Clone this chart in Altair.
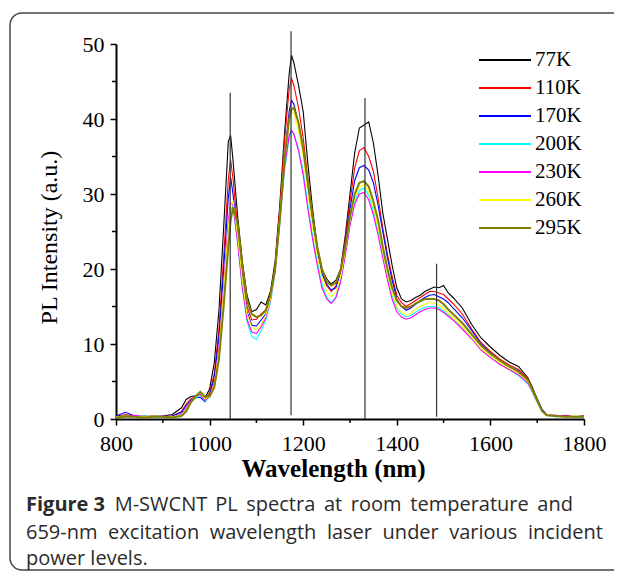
import altair as alt
import pandas as pd

# ---------------- data ----------------
wavelength = [800, 820, 840, 860, 880, 900, 920, 940,
              950, 960, 970, 980, 990, 1000, 1010, 1020, 1030, 1040,
              1045,
              1050, 1060, 1070, 1080, 1090, 1100, 1110, 1120, 1130, 1140, 1150, 1160, 1170,
              1175,
              1180, 1190, 1200, 1210, 1220, 1230, 1240, 1250, 1260, 1270, 1280, 1290, 1300,
              1310, 1320, 1330, 1340, 1350, 1360, 1370, 1380, 1390, 1400, 1410, 1420, 1430,
              1440, 1450, 1460, 1470, 1480, 1490, 1500, 1510, 1520,
              1540, 1560, 1580, 1600, 1620, 1640, 1660, 1680,
              1690, 1700, 1710, 1720,
              1740, 1760, 1780, 1800]

i77 = [0.4, 0.5, 0.3, 0.4, 0.3, 0.4, 0.6, 1.5,
       2.6, 3.0, 3.1, 3.4, 2.8, 4.0, 7.5, 14.5, 25.5, 37.0,
       37.8,
       34.5, 27.0, 21.0, 16.5, 14.3, 14.6, 15.6, 15.2, 17.0, 21.0, 28.5, 38.0, 46.0,
       48.5,
       47.5, 44.5, 41.0, 34.0, 28.0, 23.0, 20.0, 18.7, 18.0, 18.5, 20.0, 24.5, 30.0,
       35.5, 38.8, 39.2, 39.6, 36.8, 32.5, 27.5, 24.0, 20.5, 17.5, 16.0, 15.6, 15.8,
       16.2, 16.5, 17.0, 17.3, 17.6, 17.5, 17.8, 16.8, 16.2,
       14.8, 12.6, 10.8, 9.6, 8.5, 7.6, 7.0, 5.5,
       4.2, 2.6, 1.3, 0.6,
       0.4, 0.4, 0.3, 0.4]

i110 = [0.3, 0.6, 0.4, 0.3, 0.4, 0.3, 0.4, 1.0,
        2.0, 2.7, 3.0, 3.2, 2.6, 3.5, 6.0, 12.0, 21.5, 32.0,
        34.5,
        32.0, 25.5, 19.5, 15.0, 13.2, 13.3, 14.0, 14.5, 16.5, 20.5, 28.0, 37.0, 44.0,
        45.4,
        44.5, 41.5, 37.5, 32.0, 27.0, 22.5, 19.5, 17.8, 17.0, 17.8, 19.8, 24.0, 29.0,
        33.5, 35.8, 36.2, 35.0, 33.0, 29.5, 25.5, 22.0, 19.0, 16.5, 15.5, 15.0, 15.4,
        15.8, 16.2, 16.6, 17.0, 17.0, 16.8, 16.6, 16.0, 15.4,
        14.0, 12.0, 10.2, 9.0, 8.0, 7.2, 6.6, 5.4,
        4.0, 2.6, 1.2, 0.6,
        0.4, 0.5, 0.3, 0.4]

i170 = [0.4, 0.9, 0.4, 0.3, 0.4, 0.3, 0.4, 0.9,
        1.8, 2.5, 2.8, 2.9, 2.3, 3.2, 5.5, 11.0, 20.0, 29.5,
        32.2,
        30.0, 24.0, 18.5, 14.3, 12.5, 12.4, 13.2, 14.0, 16.0, 20.0, 27.0, 35.0, 41.0,
        42.5,
        42.0, 39.5, 36.0, 31.0, 26.5, 22.5, 19.5, 18.0, 17.2, 17.5, 19.5, 23.5, 28.0,
        31.8, 33.5, 33.8, 33.2, 31.5, 28.5, 25.0, 21.5, 18.5, 16.0, 15.0, 14.5, 14.8,
        15.3, 15.8, 16.2, 16.5, 16.6, 16.3, 16.0, 15.5, 14.8,
        13.5, 11.8, 10.0, 8.8, 7.8, 7.0, 6.4, 5.2,
        4.0, 2.7, 1.3, 0.6,
        0.3, 0.4, 0.3, 0.3]

i200 = [0.3, 0.4, 0.3, 0.4, 0.2, 0.3, 0.3, 0.6,
        1.4, 2.2, 2.8, 3.2, 2.4, 2.9, 4.5, 9.0, 17.0, 25.5,
        28.0,
        28.3, 23.5, 17.5, 13.0, 11.0, 10.6, 11.8, 13.2, 15.5, 19.5, 26.0, 33.0, 37.5,
        38.4,
        38.0, 36.0, 33.0, 28.5, 24.5, 21.0, 18.0, 16.3, 15.5, 16.3, 18.5, 22.0, 26.0,
        29.0, 30.5, 30.8, 29.8, 27.8, 25.0, 22.0, 19.0, 16.5, 14.8, 14.0, 13.6, 13.8,
        14.2, 14.6, 14.9, 15.0, 15.0, 14.8, 14.4, 13.9, 13.3,
        12.2, 10.8, 9.3, 8.3, 7.4, 6.6, 5.8, 4.7,
        3.5, 2.2, 1.0, 0.5,
        0.3, 0.3, 0.4, 0.2]

i230 = [0.3, 0.3, 0.5, 0.3, 0.3, 0.4, 0.3, 0.6,
        1.5, 2.4, 3.0, 3.3, 2.5, 3.0, 4.8, 9.5, 17.5, 26.5,
        28.8,
        28.5, 23.5, 17.5, 13.3, 11.6, 11.4, 12.3, 13.5, 15.8, 19.8, 26.5, 33.5, 37.8,
        38.5,
        38.0, 35.8, 32.5, 28.0, 24.0, 20.5, 17.5, 16.0, 15.4, 16.2, 18.3, 21.8, 25.8,
        28.6, 30.0, 30.2, 29.2, 27.2, 24.5, 21.5, 18.5, 16.0, 14.3, 13.6, 13.3, 13.5,
        13.9, 14.3, 14.6, 14.8, 14.8, 14.6, 14.2, 13.7, 13.2,
        12.0, 10.7, 9.2, 8.2, 7.3, 6.6, 5.9, 4.8,
        3.6, 2.3, 1.1, 0.6,
        0.5, 0.4, 0.3, 0.4]

i260 = [0.3, 0.4, 0.3, 0.3, 0.4, 0.3, 0.3, 0.5,
        1.3, 2.3, 3.0, 3.5, 2.7, 3.0, 4.6, 9.0, 17.0, 25.5,
        28.5,
        29.0, 24.5, 18.5, 14.0, 12.2, 11.9, 12.6, 13.8, 16.0, 20.0, 27.0, 35.0, 40.0,
        41.0,
        40.8, 38.5, 35.0, 30.0, 25.5, 21.8, 18.8, 17.0, 16.3, 17.0, 19.0, 22.5, 26.5,
        29.5, 31.0, 31.2, 30.3, 28.2, 25.5, 22.3, 19.3, 16.8, 15.0, 14.2, 13.9, 14.1,
        14.6, 15.0, 15.3, 15.5, 15.5, 15.2, 14.7, 14.1, 13.5,
        12.3, 10.9, 9.4, 8.4, 7.5, 6.8, 6.1, 5.0,
        3.7, 2.4, 1.1, 0.6,
        0.4, 0.3, 0.4, 0.3]

i295 = [0.2, 0.3, 0.3, 0.2, 0.3, 0.3, 0.2, 0.4,
        1.0, 2.2, 3.0, 3.6, 3.0, 3.0, 4.2, 8.0, 15.0, 23.0,
        26.5,
        28.2, 26.0, 20.5, 15.8, 14.0, 13.6, 13.8, 14.5, 16.5, 20.0, 26.5, 34.5, 40.0,
        41.3,
        41.5, 39.5, 36.0, 31.5, 27.0, 23.0, 20.0, 18.3, 17.8, 18.2, 19.8, 23.0, 27.0,
        30.0, 31.5, 31.7, 31.0, 29.0, 26.5, 23.0, 20.0, 17.5, 15.8, 15.0, 14.8, 15.0,
        15.4, 15.7, 16.0, 16.0, 16.0, 15.8, 15.3, 14.6, 14.0,
        12.8, 11.3, 9.8, 8.7, 7.8, 7.0, 6.3, 5.2,
        3.9, 2.5, 1.1, 0.5,
        0.4, 0.3, 0.3, 0.3]

series_names = ["77K", "110K", "170K", "200K", "230K", "260K", "295K"]
series_colors = ["#000000", "#ff0000", "#0000ff", "#00ffff", "#ff00ff", "#ffff00", "#808000"]
series_values = [i77, i110, i170, i200, i230, i260, i295]

peak_wl = [1044, 1174, 1332, 1485]
peak_top = [43.5, 51.7, 42.8, 20.7]
peak_bottom = [0.0, 0.5, 0.0, 0.3]

x_ticks = [800, 1000, 1200, 1400, 1600, 1800]
x_minor = [900, 1100, 1300, 1500, 1700]
y_ticks = [0, 10, 20, 30, 40, 50]
y_minor = [5, 15, 25, 35, 45]

caption_words_1 = ["Figure 3", "M-SWCNT", "PL", "spectra", "at", "room", "temperature", "and"]
caption_bold_1 = [True, False, False, False, False, False, False, False]
caption_words_2 = ["659-nm", "excitation", "wavelength", "laser", "under", "various", "incident"]
caption_words_3 = ["power levels."]

# ---------------- build tables ----------------
rows = []
for name, vals in zip(series_names, series_values):
    assert len(vals) == len(wavelength), name
    for w, v in zip(wavelength, vals):
        rows.append({"wl": w, "I": v, "series": name})
df = pd.DataFrame(rows)
df_peaks = pd.DataFrame({"wl": peak_wl, "top": peak_top, "bottom": peak_bottom})
df_xminor = pd.DataFrame({"v": x_minor})
df_yminor = pd.DataFrame({"v": y_minor})
one = pd.DataFrame({"a": [0]})

W, H = 468, 375
SERIF = "Liberation Serif"
SANS = "Open Sans"
CAP_LEFT = -90          # caption left edge, relative to plot origin
CAP_Y = [461, 489, 515]
CAP_SIZE = 20
CAP_LINE_WIDTHS = [547, 577]   # justified line widths
cap_color = "#2b2b2b"

# approximate Open Sans advance widths (em) used to justify the caption lines
_W = {"a": .556, "b": .613, "c": .48, "d": .613, "e": .561, "f": .336, "g": .546, "h": .613,
      "i": .258, "j": .258, "k": .521, "l": .258, "m": .93, "n": .613, "o": .602, "p": .613,
      "q": .613, "r": .408, "s": .477, "t": .353, "u": .613, "v": .5, "w": .778, "x": .518,
      "y": .5, "z": .465, "F": .52, "M": .91, "S": .55, "W": .87, "C": .63, "N": .75,
      "T": .56, "P": .6, "L": .52, "-": .322, ".": .266, " ": .26}


def text_w(s, bold=False):
    w = sum(_W.get(ch, .572) for ch in s) * CAP_SIZE
    return w * (1.07 if bold else 1.0)


def justify(words, bolds, target):
    widths = [text_w(w, b) for w, b in zip(words, bolds)]
    gap = (target - sum(widths)) / (len(words) - 1)
    starts, pos = [], 0.0
    for wd in widths:
        starts.append(pos)
        pos += wd + gap
    return starts


caption_bold_2 = [False] * len(caption_words_2)
caption_starts_1 = justify(caption_words_1, caption_bold_1, CAP_LINE_WIDTHS[0])
caption_starts_2 = justify(caption_words_2, caption_bold_2, CAP_LINE_WIDTHS[1])

xscale = alt.Scale(domain=[800, 1800], nice=False, zero=False)
yscale = alt.Scale(domain=[0, 50], nice=False)

lines = alt.Chart(df).mark_line(interpolate="linear").encode(
    x=alt.X("wl:Q", scale=xscale,
            axis=alt.Axis(values=x_ticks, format="d", title="Wavelength (nm)", titleFont=SERIF,
                          titleFontSize=25, titleFontWeight="bold", titleColor="black",
                          titleX=217, titleY=57, titleBaseline="alphabetic",
                          labelFlush=False)),
    y=alt.Y("I:Q", scale=yscale,
            axis=alt.Axis(values=y_ticks, format="d", title="PL Intensity (a.u.)", titleFont=SERIF,
                          titleFontSize=24, titleFontWeight="normal", titleColor="black",
                          titleAngle=270, titleX=-60, titleY=193, titleAlign="center",
                          titleBaseline="alphabetic")),
    color=alt.Color("series:N", sort=series_names,
                    scale=alt.Scale(domain=series_names, range=series_colors),
                    legend=alt.Legend(title=None, orient="none", legendX=362, legendY=2,
                                      symbolType="stroke", symbolSize=2704,
                                      symbolStrokeWidth=2, clipHeight=28, rowPadding=0,
                                      labelFont=SERIF, labelFontSize=21, labelColor="black",
                                      labelOffset=3, padding=0)),
    order=alt.Order("wl:Q"),
    detail="series:N",
    strokeWidth=alt.condition(alt.datum.series == "295K", alt.value(2.0), alt.value(1.1)),
)

peaks = alt.Chart(df_peaks).mark_rule(color="#333333", strokeWidth=1.2).encode(
    x="wl:Q", y="top:Q", y2="bottom:Q")

xminor = alt.Chart(df_xminor).mark_rule(color="black", strokeWidth=1.5).encode(
    x="v:Q", y=alt.value(H), y2=alt.value(H + 4))
yminor = alt.Chart(df_yminor).mark_rule(color="black", strokeWidth=1.5).encode(
    y="v:Q", x=alt.value(0), x2=alt.value(-4))

frame = alt.Chart(one).mark_rect(fillOpacity=0, stroke="#444444", strokeWidth=1.5,
                                 cornerRadius=12).encode(
    x=alt.value(-106), x2=alt.value(720), y=alt.value(-31), y2=alt.value(526))

caption_layers = []
for words, starts, bolds, yy in [
        (caption_words_1, caption_starts_1, caption_bold_1, CAP_Y[0]),
        (caption_words_2, caption_starts_2, caption_bold_2, CAP_Y[1]),
        (caption_words_3, [0], [False], CAP_Y[2])]:
    for wtxt, st, b in zip(words, starts, bolds):
        caption_layers.append(
            alt.Chart(one).mark_text(text=wtxt, font=SANS, fontSize=CAP_SIZE,
                                     fontWeight="bold" if b else "normal",
                                     align="left", baseline="middle", color=cap_color).encode(
                x=alt.value(CAP_LEFT + st), y=alt.value(yy)))

chart = alt.layer(frame, lines, peaks, xminor, yminor, *caption_layers).properties(
    width=W, height=H,
    autosize=alt.AutoSizeParams(type="none"),
    padding={"left": 108, "top": 36, "right": 30, "bottom": 152},
).configure_view(stroke=None).configure_axis(
    grid=False, domainColor="black", domainWidth=2, tickColor="black", tickWidth=1.5,
    tickSize=6, labelFont=SERIF, labelFontSize=22, labelColor="black", labelPadding=6,
).configure_axisX(labelPadding=8)

chart.save("out.html", embed_options={"renderer": "svg", "actions": False})
